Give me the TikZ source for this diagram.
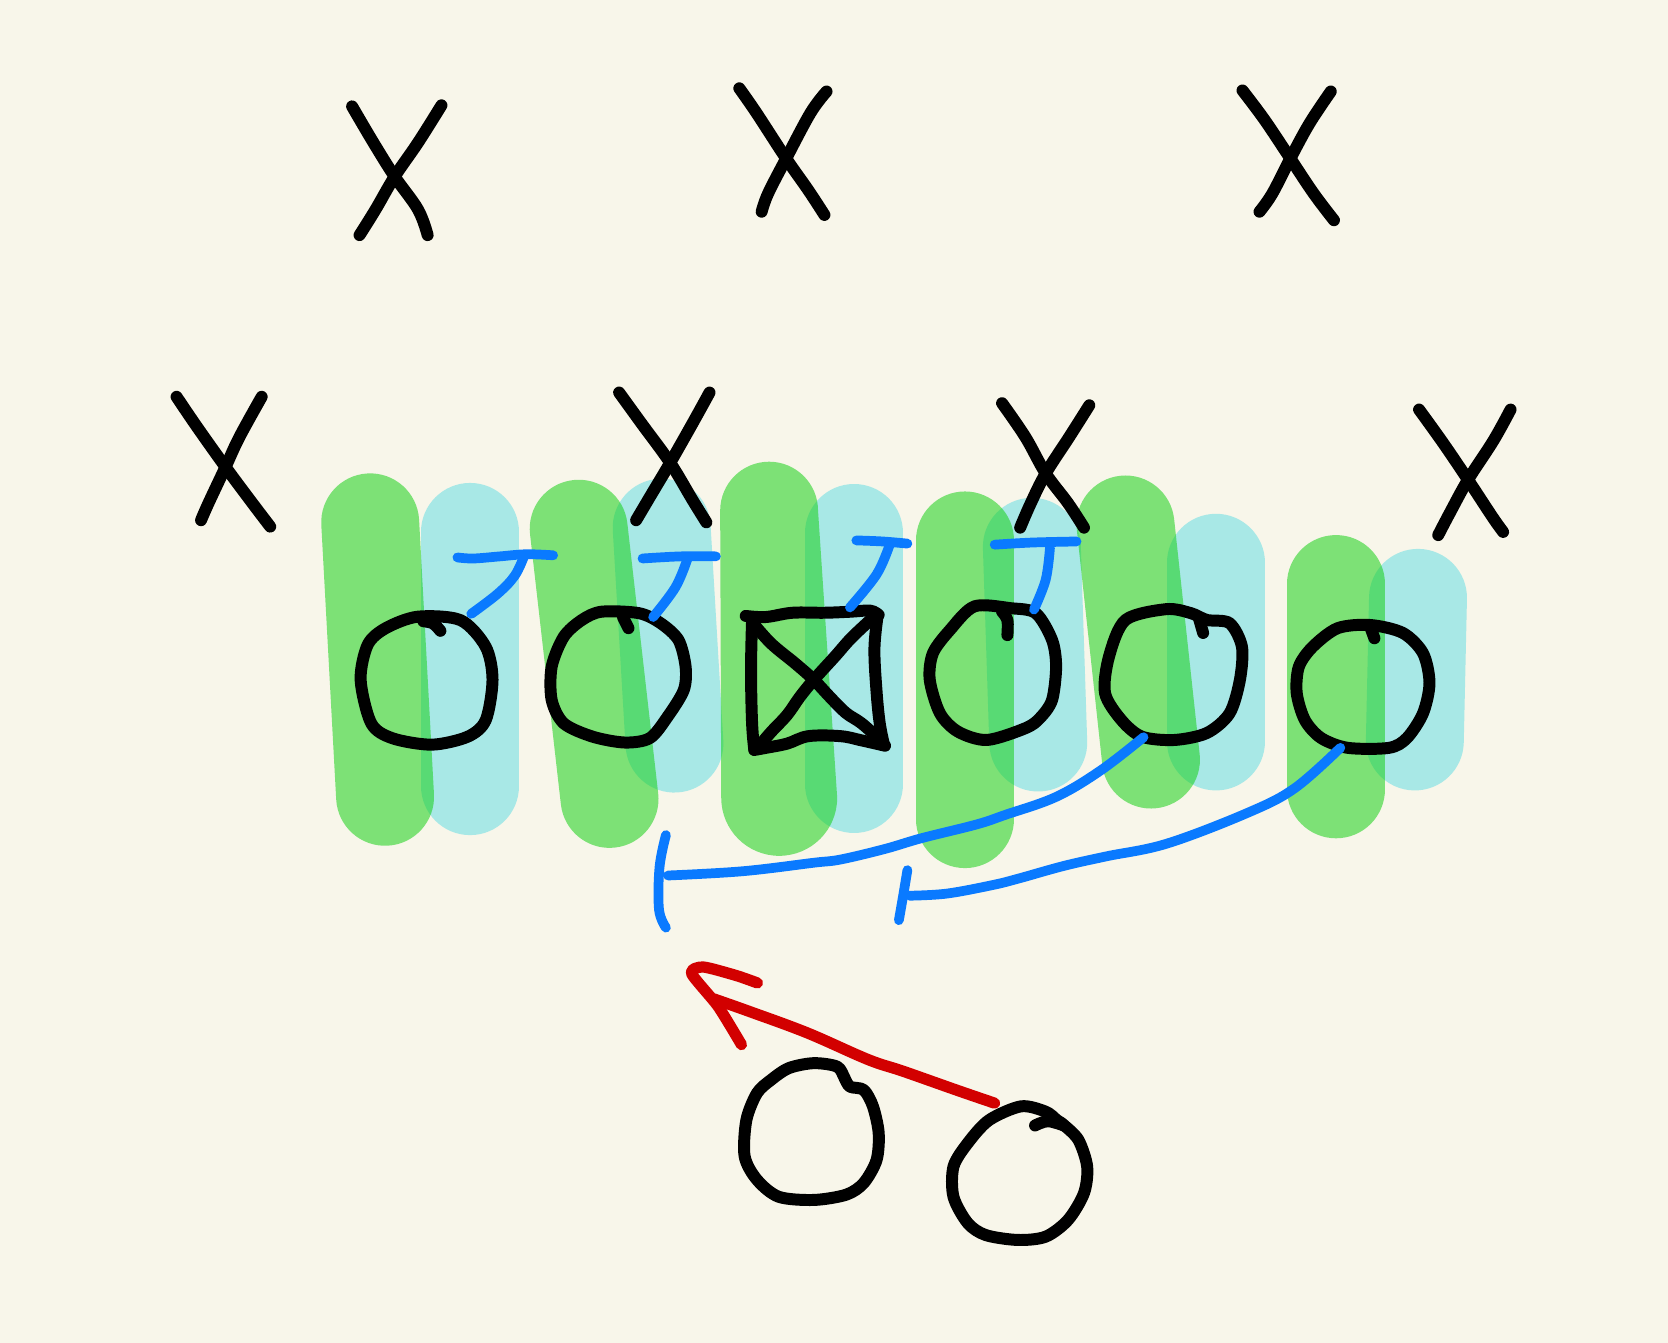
\documentclass[tikz,border=0pt]{standalone}
\definecolor{bg}{RGB}{248,246,234}
\definecolor{gcol}{RGB}{24,208,24}
\definecolor{ccol}{RGB}{168,232,230}
\definecolor{pblue}{RGB}{10,122,255}
\definecolor{pred}{RGB}{210,0,0}
\begin{document}
\begin{tikzpicture}[x=0.01cm,y=-0.01cm,
  ink/.style={draw=black,line width=3.2pt,line cap=round,line join=round},
  blu/.style={draw=pblue,line width=2.6pt,line cap=round,line join=round},
  redink/.style={draw=pred,line width=3pt,line cap=round,line join=round},
  gbar/.style={draw=gcol,draw opacity=0.55,line width=0.92cm,line cap=round},
  cbar/.style={draw=ccol,line width=0.92cm,line cap=round},
  hand/.style={smooth,tension=0.6},
  loop/.style={smooth cycle,tension=0.5}]
\useasboundingbox (0,0) rectangle (1568,1262);
\fill[bg] (0,0) rectangle (1568,1262);

% cyan bars
\draw[cbar] (442,500) -- (442,739);
\draw[cbar] (622,496) -- (634,699);
\draw[cbar] (803,501) -- (803,737);
\draw[cbar] (970,514) -- (976,698);
\draw[cbar] (1143,529) -- (1143,697);
\draw[cbar] (1333,562) -- (1330,697);

% green bars
\draw[gbar] (348,491) -- (362,749);
\draw[gbar] (544,497) -- (573,751);
\fill[gcol,fill opacity=0.55] (677,480) -- (678,750) arc[start angle=180,end angle=0,radius=54.5] -- (769,480) arc[start angle=0,end angle=-180,radius=46] -- cycle;
\draw[gbar] (907,508) -- (907,770);
\draw[gbar] (1058,493) -- (1082,714);
\draw[gbar] (1256,549) -- (1256,742);

% defenders (X)
\draw[ink] plot[hand] coordinates {(331,100) (351,134) (371,166) (393,197) (402,221)};
\draw[ink] plot[hand] coordinates {(415,99) (393,134) (371,166) (353,197) (338,221)};
\draw[ink] plot[hand] coordinates {(695,83) (711,106) (739,149) (760,179) (775,202)};
\draw[ink] plot[hand] coordinates {(777,86) (762,106) (739,149) (722,182) (716,199)};
\draw[ink] plot[hand] coordinates {(1168,85) (1189,113) (1213,149) (1235,182) (1254,207)};
\draw[ink] plot[hand] coordinates {(1251,86) (1231,116) (1213,149) (1196,182) (1184,199)};
\draw[ink] plot[hand] coordinates {(166,373) (185,401) (212,439) (235,470) (254,495)};
\draw[ink] plot[hand] coordinates {(246,373) (225,411) (212,439) (196,473) (189,489)};
\draw[ink] plot[hand] coordinates {(582,369) (603,398) (630,435) (651,470) (664,491)};
\draw[ink] plot[hand] coordinates {(667,369) (651,398) (630,435) (611,467) (598,489)};
\draw[ink] plot[hand] coordinates {(942,379) (964,411) (983,445) (1004,473) (1019,496)};
\draw[ink] plot[hand] coordinates {(1024,381) (1005,411) (983,445) (969,473) (959,496)};
\draw[ink] plot[hand] coordinates {(1334,385) (1357,417) (1380,451) (1403,486) (1413,500)};
\draw[ink] plot[hand] coordinates {(1420,385) (1404,414) (1380,451) (1363,482) (1352,503)};

% offensive line
\draw[ink] plot[loop] coordinates {(362.6,590.5) (392.7,579.7) (433,583) (456.6,608) (463,639) (456.6,677) (439.7,692.5) (406,700) (369,694) (349,680) (339,639) (345.7,606)};
\draw[ink] plot[hand] coordinates {(398,584) (407,586) (414,593)};

\draw[ink] plot[loop] coordinates {(565.6,575) (600.7,576.4) (621,585.8) (637.8,601.6) (644.5,626.7) (642.8,648.6) (627.6,673.7) (611,693.8) (587.5,698) (557.2,692.5) (530,680) (518.6,658) (518.6,626.7) (530,598.5) (547,582.8)};
\draw[ink] plot[hand] coordinates {(585.6,580) (590.8,590.5)};

% center (square with X)
\draw[ink] plot[hand] coordinates {(701,579) (720,580) (745,576) (775,576) (800,575) (818,574) (826,578)};
\draw[ink] plot[hand] coordinates {(707,582) (706,630) (707,680) (709,704)};
\draw[ink] plot[hand] coordinates {(709,705) (720,703) (740,699) (760,692) (790,692) (810,696) (832,701)};
\draw[ink] plot[hand] coordinates {(825,579) (822,610) (824,650) (827,680) (831,700)};
\draw[ink] plot[hand] coordinates {(708,586) (725,605) (748,624) (765,639) (780,655) (795,670) (810,680) (828,696)};
\draw[ink] plot[hand] coordinates {(818,583) (800,600) (785,617) (765,639) (752,655) (740,672) (725,688) (713,702)};

\draw[ink] plot[loop] coordinates {(916,570) (950,571.7) (973.7,576.4) (989,601.6) (992.8,626.7) (989,658) (977.6,675) (964,684.5) (927.8,695.6) (900.6,687.8) (883.6,670.5) (874,639) (877,614) (893,592.2)};
\draw[ink] plot[hand] coordinates {(942,575) (947,583) (947,597)};

\draw[ink] plot[loop] coordinates {(1058,582.8) (1096.5,572.6) (1119.6,576.4) (1134.6,582.8) (1155.9,585.8) (1167.5,608) (1165.6,639) (1155.9,670.5) (1134.6,689) (1104,695.6) (1073.5,692.5) (1054.3,677) (1038.8,651.6) (1042.5,617.3)};
\draw[ink] plot[hand] coordinates {(1127,581) (1131,595)};

\draw[ink] plot[loop] coordinates {(1234,608) (1257.5,590.5) (1288,587.5) (1318.8,595) (1337.7,614) (1343.8,642) (1337.7,670.5) (1322.6,693.8) (1305.7,703) (1267,703) (1242,693.8) (1226.7,677) (1219,651.6) (1221,626.7)};
\draw[ink] plot[hand] coordinates {(1288,589) (1292,600)};

% blocking marks
\draw[blu] plot[hand] coordinates {(430,524) (445,525) (470,523) (495,521) (520,522)};
\draw[blu] plot[hand] coordinates {(493,522) (484,541) (468,558) (443,577)};
\draw[blu] plot[hand] coordinates {(604,525) (640,523) (673,523)};
\draw[blu] plot[hand] coordinates {(646,526) (635,552) (614,580)};
\draw[blu] plot[hand] coordinates {(805,508) (830,509) (853,511)};
\draw[blu] plot[hand] coordinates {(836,513) (824,540) (799,571)};
\draw[blu] plot[hand] coordinates {(935,512) (970,510) (1012,509)};
\draw[blu] plot[hand] coordinates {(987,515) (983,545) (972,573)};

% pulling blocks
\draw[blu] plot[hand] coordinates {(1075,693) (1035,724) (993,749) (945,766) (918,775) (866,788) (832,798) (790,808) (765,811) (698,819) (628,823)};
\draw[blu] plot[hand] coordinates {(626,785) (620,815) (619.5,855) (626,872)};
\draw[blu] plot[hand] coordinates {(1260,703) (1217,741) (1173,764) (1097,793) (1040,805) (1000,814) (957,826) (933,832) (890,840) (855,842)};
\draw[blu] plot[hand] coordinates {(853,818) (849,842) (845,865)};

% backs
\draw[ink] plot[loop] coordinates {(765,999.4) (787,1002.7) (794,1013.5) (799,1021.5) (812,1024.6) (820.6,1040) (826,1065) (824,1090.5) (812,1112) (795.6,1123) (765,1128) (732,1125) (711.6,1109) (700,1087) (701.6,1053) (711.6,1027.6) (725,1015) (741.7,1004)};
\draw[ink] plot[loop] coordinates {(959.8,1040) (983,1045) (993.6,1053) (1000,1057.5) (1013.8,1071.6) (1022,1096.7) (1019,1121.6) (1004,1146.8) (983,1162.5) (956.8,1165.6) (926.6,1161) (909.7,1149.7) (896.3,1125) (896.3,1096.7) (909.7,1074.6) (929.7,1053)};
\draw[ink] plot[hand] coordinates {(973,1058) (985,1054) (1000,1058)};

% run arrow
\draw[redink] plot[hand] coordinates {(935,1037) (900,1025) (849,1007) (816,996) (759,971) (705,951) (671,939)};
\draw[redink] plot[smooth,tension=0.4] coordinates {(697,982) (675,946) (650,915) (661,909) (692,917) (712,924)};
\end{tikzpicture}
\end{document}
